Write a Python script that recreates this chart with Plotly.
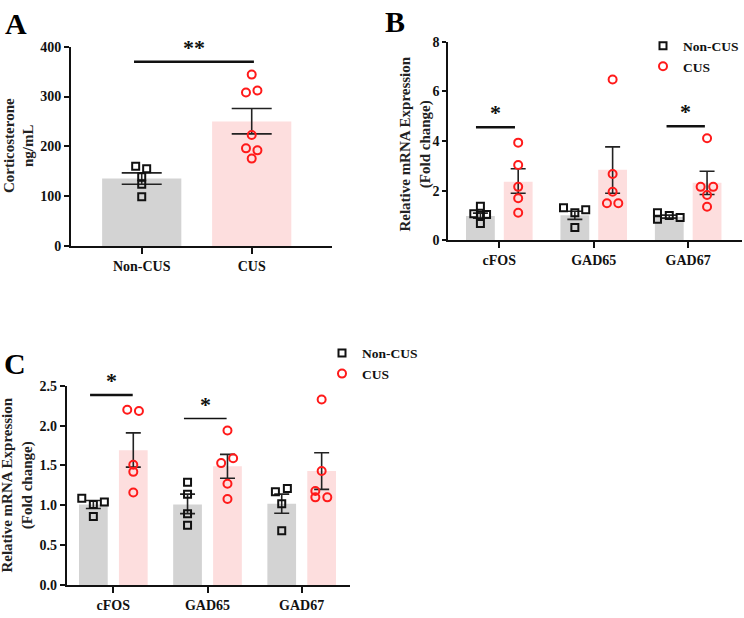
import plotly.graph_objects as go

# ---------------- Data ----------------
# Panel A: corticosterone (ng/mL)
groups_a = ["Non-CUS", "CUS"]
mean_a = [135.5, 250.0]
err_hi_a = [146.8, 276.0]
err_lo_a = [123.9, 225.0]
pts_a_non = [160, 155, 139, 124, 99]
pts_a_cus = [344, 308, 312, 223, 196, 192, 175.5]
jit_a_non = [-0.055, 0.045, 0, 0, 0]
jit_a_cus = [0, -0.052, 0.052, 0, -0.052, 0.052, 0]

genes = ["cFOS", "GAD65", "GAD67"]

# Panel B: relative mRNA expression
mean_b_non = [0.99, 1.02, 0.95]
hi_b_non = [1.10, 1.18, 1.02]
lo_b_non = [0.90, 0.85, 0.90]
mean_b_cus = [2.37, 2.85, 2.33]
hi_b_cus = [2.89, 3.77, 2.79]
lo_b_cus = [1.90, 1.90, 1.85]
pts_b_non = [[1.38, 1.08, 1.02, 1.05, 0.68], [1.32, 1.12, 1.24, 0.52], [1.12, 0.86, 1.01, 0.93]]
pts_b_cus = [[3.94, 3.04, 2.16, 1.70, 1.12], [6.48, 2.68, 1.96, 1.50, 1.50], [4.12, 2.16, 2.16, 1.83, 1.36]]
jit_b_non = [[0, -0.07, 0, 0.065, 0], [-0.12, 0, 0.115, 0], [-0.125, -0.125, 0, 0.115]]
jit_b_cus = [[0, 0, 0, 0, 0], [0, 0, 0, -0.06, 0.06], [0, -0.068, 0.065, 0, 0]]

# Panel C: relative mRNA expression
mean_c_non = [1.01, 1.01, 1.02]
hi_c_non = [1.06, 1.14, 1.14]
lo_c_non = [0.96, 0.895, 0.90]
mean_c_cus = [1.69, 1.49, 1.43]
hi_c_cus = [1.91, 1.64, 1.66]
lo_c_cus = [1.48, 1.34, 1.20]
pts_c_non = [[1.09, 1.01, 1.04, 0.86], [1.29, 1.14, 0.895, 0.75], [1.17, 1.21, 1.02, 0.68]]
pts_c_cus = [[2.20, 2.185, 1.51, 1.42, 1.16], [1.94, 1.53, 1.59, 1.27, 1.08], [2.33, 1.43, 1.18, 1.10, 1.10]]
jit_c_non = [[-0.123, 0, 0.117, 0], [0, 0, 0, 0], [-0.067, 0.06, 0, 0]]
jit_c_cus = [[-0.064, 0.06, 0, 0, 0], [0, -0.067, 0.06, 0, 0], [0, 0, -0.067, -0.067, 0.06]]

# ---------------- Style ----------------
GREY = "#d3d3d3"
PINK = "#fddede"
RED = "#ff1a1a"
FONT = "Liberation Serif"
W, H = 744, 618

fig = go.Figure()


def px_x(x0, x1):
    return [x0 / W, x1 / W]


def px_y(top, bottom):
    return [1 - bottom / H, 1 - top / H]


def add_bars(xs, means, hi, lo, color, width, capw, xa, ya):
    fig.add_trace(go.Bar(
        x=xs, y=means, width=width, marker=dict(color=color, line=dict(width=0)),
        error_y=dict(type="data", symmetric=False,
                     array=[h - m for h, m in zip(hi, means)],
                     arrayminus=[m - l for m, l in zip(means, lo)],
                     color="#222222", thickness=1.6, width=capw),
        xaxis=xa, yaxis=ya, showlegend=False, hoverinfo="skip"))


def add_pts(xs, ys, sym, color, size, xa, ya, name=None, legend=None):
    fig.add_trace(go.Scatter(
        x=xs, y=ys, mode="markers",
        marker=dict(symbol=sym, size=size, color=color,
                    line=dict(color=color, width=2)),
        xaxis=xa, yaxis=ya, name=name or "", showlegend=name is not None,
        legend=legend or "legend", cliponaxis=False, hoverinfo="skip"))


# ---- Panel A ----
add_bars([0, 1], mean_a, err_hi_a, err_lo_a, [GREY, PINK], 0.72, 20, "x", "y")
add_pts([0 + j for j in jit_a_non], pts_a_non, "square-open", "#111111", 7, "x", "y")
add_pts([1 + j for j in jit_a_cus], pts_a_cus, "circle-open", RED, 8, "x", "y")


# ---- Panel B & C ----
def panel(means_n, hi_n, lo_n, means_c, hi_c, lo_c, pn, pc, jn, jc, off, xa, ya, legend):
    xs_n = [i - off for i in range(len(genes))]
    xs_c = [i + off for i in range(len(genes))]
    add_bars(xs_n, means_n, hi_n, lo_n, GREY, 0.305, 7.5, xa, ya)
    add_bars(xs_c, means_c, hi_c, lo_c, PINK, 0.305, 7.5, xa, ya)
    xn, yn, xc, yc = [], [], [], []
    for i in range(len(genes)):
        xn += [xs_n[i] + j for j in jn[i]]
        yn += pn[i]
        xc += [xs_c[i] + j for j in jc[i]]
        yc += pc[i]
    add_pts(xn, yn, "square-open", "#111111", 7, xa, ya, "Non-CUS", legend)
    add_pts(xc, yc, "circle-open", RED, 8, xa, ya, "CUS", legend)


panel(mean_b_non, hi_b_non, lo_b_non, mean_b_cus, hi_b_cus, lo_b_cus,
      pts_b_non, pts_b_cus, jit_b_non, jit_b_cus, 0.2, "x2", "y2", "legend")
panel(mean_c_non, hi_c_non, lo_c_non, mean_c_cus, hi_c_cus, lo_c_cus,
      pts_c_non, pts_c_cus, jit_c_non, jit_c_cus, 0.212, "x3", "y3", "legend2")

tickfont = dict(family=FONT, size=14, color="#111111", weight="bold")
axis_common = dict(showline=True, linecolor="#111111", linewidth=2, ticks="outside",
                   tickwidth=2, tickcolor="#111111", showgrid=False, zeroline=False,
                   tickfont=tickfont)

legfont = dict(family=FONT, size=13.5, color="#111111", weight="bold")

fig.update_layout(
    width=W, height=H, margin=dict(l=0, r=0, t=0, b=0),
    plot_bgcolor="white", paper_bgcolor="white", barmode="overlay",
    xaxis=dict(domain=px_x(71, 332), range=[-0.643, 1.73], tickvals=[0, 1],
               ticktext=groups_a, ticklen=6, anchor="y", **axis_common),
    yaxis=dict(domain=px_y(40.7, 245), range=[0, 400], tickvals=[0, 100, 200, 300, 400],
               ticklen=5, anchor="x", **axis_common),
    xaxis2=dict(domain=px_x(448.3, 742), range=[-0.54, 2.57], tickvals=[0, 1, 2],
                ticktext=genes, ticklen=6, anchor="y2", **axis_common),
    yaxis2=dict(domain=px_y(35.7, 239.3), range=[0, 8], tickvals=[0, 2, 4, 6, 8],
                ticklen=4, anchor="x2", **axis_common),
    xaxis3=dict(domain=px_x(66.7, 350), range=[-0.495, 2.513], tickvals=[0, 1, 2],
                ticktext=genes, ticklen=6, anchor="y3", **axis_common),
    yaxis3=dict(domain=px_y(388.3, 592.3), range=[0, 2.5],
                tickvals=[0, 0.5, 1.0, 1.5, 2.0, 2.5], tickformat=".1f",
                ticklen=5, anchor="x3", **axis_common),
    legend=dict(x=1, y=1 - 24 / H, xanchor="right", yanchor="top",
                font=legfont, bgcolor="rgba(0,0,0,0)", itemclick=False),
    legend2=dict(x=322 / W, y=1 - 339 / H, xanchor="left", yanchor="top",
                 font=legfont, bgcolor="rgba(0,0,0,0)", itemclick=False),
)

# significance lines
sig = [
    ("x", "y", -0.07, 1.02, 370, "**", 2.5),
    ("x2", "y2", -0.247, 0.166, 4.56, "*", 2.5),
    ("x2", "y2", 1.771, 2.177, 4.6, "*", 2.5),
    ("x3", "y3", -0.247, 0.206, 2.385, "*", 2.5),
    ("x3", "y3", 0.75, 1.203, 2.09, "*", 1.6),
]
for xa, ya, x0, x1, yv, txt, lw in sig:
    fig.add_shape(type="line", xref=xa, yref=ya, x0=x0, x1=x1, y0=yv, y1=yv,
                  line=dict(color="#111111", width=lw))
    fig.add_annotation(xref=xa, yref=ya, x=(x0 + x1) / 2, y=yv, text=txt, showarrow=False,
                       yanchor="bottom", yshift=0,
                       font=dict(family=FONT, size=22, color="#111111", weight="bold"))

# axis titles
titles = [
    ("Corticosterone<br>ng/mL", 18.5, 142),
    ("Relative mRNA Expression<br>(Fold change)", 416, 140),
    ("Relative mRNA Expression<br>(Fold change)", 17.5, 490),
]
for txt, cx, cy in titles:
    fig.add_annotation(xref="paper", yref="paper", x=cx / W, y=1 - cy / H, text=txt,
                       textangle=-90, showarrow=False, xanchor="center", yanchor="middle",
                       font=dict(family=FONT, size=15, color="#222222", weight="bold"))

# panel letters
for letter, cx, cy in [("A", 16, 17), ("B", 395, 15), ("C", 15, 365)]:
    fig.add_annotation(xref="paper", yref="paper", x=cx / W, y=1 - cy / H, text=letter,
                       showarrow=False, xanchor="center", yanchor="middle",
                       font=dict(family=FONT, size=30, color="#000000", weight="bold"))

fig.write_html("out.html")
